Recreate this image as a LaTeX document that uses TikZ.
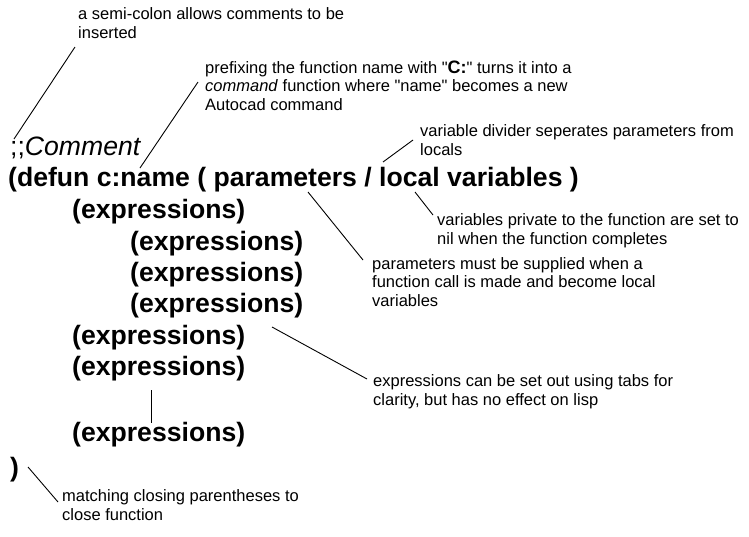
\documentclass[tikz,border=0pt]{standalone}
\usepackage{fontspec}
\setmainfont{Liberation Sans}[Ligatures=TeXOff]
\begin{document}
\begin{tikzpicture}[x=1pt,y=-1pt,
  note/.style={anchor=base west, inner sep=0pt, font=\fontsize{16.5}{18.2}\selectfont, align=left},
  code/.style={anchor=base west, inner sep=0pt, font=\fontsize{26.6}{30}\selectfont\bfseries},
  conn/.style={line width=0.9pt, black}]
\useasboundingbox (0,0) rectangle (749,536);
% notes (anchor = baseline of last line)
\node[note] (n1) at (78,38) {a semi-colon allows comments to be\\inserted};
\node[note] (n2) at (205,110) {prefixing the function name with "\textbf{\fontsize{18}{18}\selectfont C:}" turns it into a\\\textit{command} function where "name" becomes a new\\Autocad command};
\node[note] (n3) at (420,155) {variable divider seperates parameters from\\locals};
\node[note] (n4) at (437,244) {variables private to the function are set to\\nil when the function completes};
\node[note] (n5) at (372,306) {parameters must be supplied when a\\function call is made and become local\\variables};
\node[note] (n6) at (373,405) {expressions can be set out using tabs for\\clarity, but has no effect on lisp};
\node[note] (n7) at (62,520) {matching closing parentheses to\\close function};
% code
\node[code, font=\fontsize{26.6}{30}\selectfont] (cm) at (10,155) {;;\textit{Comment}};
\node[code] (df) at (8,186) {(defun c:name ( parameters / local variables )};
\node[code] (e1) at (72,218) {(expressions)};
\node[code] (e2) at (130,250) {(expressions)};
\node[code] (e3) at (130,281) {(expressions)};
\node[code] (e4) at (130,312) {(expressions)};
\node[code] (e5) at (72,344) {(expressions)};
\node[code] (e6) at (72,375) {(expressions)};
\node[code] (e7) at (72,441) {(expressions)};
\node[code] (cl) at (10,476) {)};
% connector ends
\coordinate (a1) at (75,47);  \coordinate (b1) at (14,139);
\coordinate (a2) at (198,82); \coordinate (b2) at (140,168);
\coordinate (a3) at (413,140); \coordinate (b3) at (383,162);
\coordinate (a4) at (415,192); \coordinate (b4) at (433,215);
\coordinate (a5) at (308,192); \coordinate (b5) at (363,260);
\coordinate (a6) at (272,327); \coordinate (b6) at (367,379);
\coordinate (a7) at (151,390); \coordinate (b7) at (151,423);
\coordinate (a8) at (28,467); \coordinate (b8) at (58,502);
\draw[conn] (a1) -- (b1);
\draw[conn] (a2) -- (b2);
\draw[conn] (a3) -- (b3);
\draw[conn] (a4) -- (b4);
\draw[conn] (a5) -- (b5);
\draw[conn] (a6) -- (b6);
\draw[conn] (a7) -- (b7);
\draw[conn] (a8) -- (b8);
\end{tikzpicture}
\end{document}
